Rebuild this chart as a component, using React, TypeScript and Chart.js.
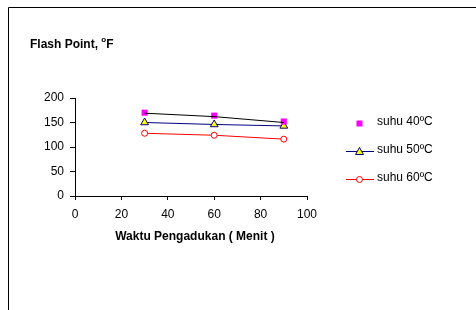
import React, { useEffect, useRef } from "react";
import { Chart, registerables } from "chart.js";

Chart.register(...registerables);

const xValues = [30, 60, 90];
const suhu40 = [170, 164, 152];
const suhu50 = [150, 146, 143];
const suhu60 = [128, 124, 116];
const trend40 = [169, 162, 150];
const seriesLabels = ["suhu 40ºC", "suhu 50ºC", "suhu 60ºC"];
const xTickValues = [0, 20, 40, 60, 80, 100];
const yTickValues = [0, 50, 100, 150, 200];
const titleMain = "Flash Point, ";
const titleDeg = "o";
const titleUnit = "F";
const xAxisTitle = "Waktu Pengadukan ( Menit )";

const FONT = "'Liberation Sans', Arial, sans-serif";

const toPts = (ys: number[]) => xValues.map((x, i) => ({ x, y: ys[i] }));

function drawMarker(ctx: CanvasRenderingContext2D, kind: string, x: number, y: number) {
  ctx.save();
  ctx.lineWidth = 1;
  if (kind === "rect") {
    ctx.fillStyle = "#FF00FF";
    ctx.fillRect(x - 3, y - 3, 6, 6);
  } else if (kind === "triangle") {
    ctx.fillStyle = "#FFFF00";
    ctx.strokeStyle = "#000080";
    ctx.beginPath();
    ctx.moveTo(x, y - 4);
    ctx.lineTo(x + 4, y + 3);
    ctx.lineTo(x - 4, y + 3);
    ctx.closePath();
    ctx.fill();
    ctx.stroke();
  } else {
    ctx.fillStyle = "#FFFFFF";
    ctx.strokeStyle = "#FF0000";
    ctx.beginPath();
    ctx.arc(x, y, 3, 0, Math.PI * 2);
    ctx.fill();
    ctx.stroke();
  }
  ctx.restore();
}

const decorPlugin = {
  id: "decor",
  afterDraw(chart: any) {
    const ctx: CanvasRenderingContext2D = chart.ctx;
    ctx.save();
    // frame
    ctx.strokeStyle = "#000000";
    ctx.lineWidth = 1;
    ctx.beginPath();
    ctx.moveTo(8.5, 310);
    ctx.lineTo(8.5, 7.5);
    ctx.lineTo(476, 7.5);
    ctx.stroke();
    // title
    ctx.fillStyle = "#000000";
    ctx.textBaseline = "alphabetic";
    ctx.textAlign = "left";
    ctx.font = `bold 12px ${FONT}`;
    ctx.fillText(titleMain, 30, 48);
    const w = ctx.measureText(titleMain).width;
    ctx.font = `bold 8px ${FONT}`;
    ctx.fillText(titleDeg, 30 + w, 42);
    const w2 = ctx.measureText(titleDeg).width;
    ctx.font = `bold 12px ${FONT}`;
    ctx.fillText(titleUnit, 30 + w + w2, 48);
    // x axis title
    ctx.textAlign = "center";
    ctx.textBaseline = "middle";
    ctx.fillText(xAxisTitle, 195, 237);
    // legend
    const kinds = ["rect", "triangle", "circle"];
    const colors = ["", "#000080", "#FF0000"];
    const ys = [123, 151, 179];
    ctx.font = `12px ${FONT}`;
    ctx.textAlign = "left";
    for (let i = 0; i < 3; i++) {
      const y = ys[i];
      if (colors[i]) {
        ctx.strokeStyle = colors[i];
        ctx.lineWidth = 1;
        ctx.beginPath();
        ctx.moveTo(346, y + 0.5);
        ctx.lineTo(374, y + 0.5);
        ctx.stroke();
      }
      drawMarker(ctx, kinds[i], 359.5, y + 0.5);
      ctx.fillStyle = "#000000";
      ctx.fillText(seriesLabels[i], 377, y - 1);
    }
    ctx.restore();
  },
};

export default function App() {
  const ref = useRef<HTMLCanvasElement | null>(null);
  useEffect(() => {
    if (!ref.current) return;
    const chart = new Chart(ref.current, {
      type: "line",
      data: {
        datasets: [
          {
            label: "trend",
            data: toPts(trend40),
            borderColor: "#000000",
            borderWidth: 1,
            pointRadius: 0,
            fill: false,
          },
          {
            label: seriesLabels[0],
            data: toPts(suhu40),
            showLine: false,
            pointStyle: "rect",
            pointRadius: 4.3,
            pointBackgroundColor: "#FF00FF",
            pointBorderColor: "#FF00FF",
            pointBorderWidth: 0,
          },
          {
            label: seriesLabels[1],
            data: toPts(suhu50),
            borderColor: "#000080",
            borderWidth: 1,
            pointStyle: "triangle",
            pointRadius: 4.5,
            pointBackgroundColor: "#FFFF00",
            pointBorderColor: "#000080",
            pointBorderWidth: 1,
          },
          {
            label: seriesLabels[2],
            data: toPts(suhu60),
            borderColor: "#FF0000",
            borderWidth: 1,
            pointStyle: "circle",
            pointRadius: 3,
            pointBackgroundColor: "#FFFFFF",
            pointBorderColor: "#FF0000",
            pointBorderWidth: 1,
          },
        ],
      },
      options: {
        animation: false,
        responsive: false,
        devicePixelRatio: 1,
        layout: { padding: { left: 30, right: 169, top: 98, bottom: 74 } },
        plugins: { legend: { display: false }, tooltip: { enabled: false } },
        scales: {
          x: {
            type: "linear",
            min: 0,
            max: 100,
            afterFit: (s: any) => { s.height = 40; },
            afterBuildTicks: (s: any) => { s.ticks = xTickValues.map((v) => ({ value: v })); },
            grid: { drawOnChartArea: false, drawTicks: true, tickLength: 4, color: "#000000" },
            border: { display: true, color: "#000000", width: 1 },
            ticks: { color: "#000000", font: { family: FONT, size: 12 }, padding: 7, maxRotation: 0 },
          },
          y: {
            type: "linear",
            min: 0,
            max: 200,
            afterFit: (s: any) => { s.width = 45; },
            afterBuildTicks: (s: any) => { s.ticks = yTickValues.map((v) => ({ value: v })); },
            grid: { drawOnChartArea: false, drawTicks: true, tickLength: 5, color: "#000000" },
            border: { display: true, color: "#000000", width: 1 },
            ticks: { color: "#000000", font: { family: FONT, size: 12 }, padding: 6 },
          },
        },
      },
      plugins: [decorPlugin],
    } as any);
    return () => chart.destroy();
  }, []);
  return (
    <div style={{ position: "absolute", left: 0, top: 0, width: 476, height: 310, background: "#fff" }}>
      <canvas ref={ref} width={476} height={310} style={{ width: 476, height: 310, display: "block" }} />
    </div>
  );
}
